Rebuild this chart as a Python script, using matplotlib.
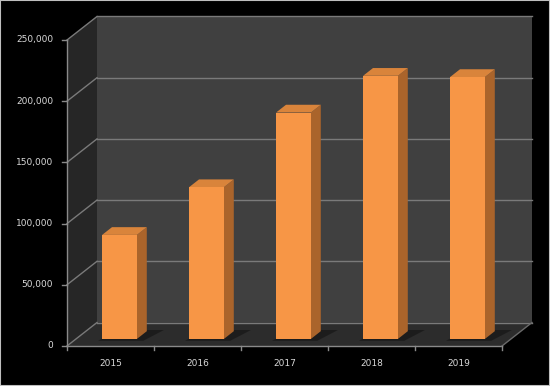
import numpy as np
import matplotlib.pyplot as plt
from matplotlib.patches import Polygon, Rectangle

# chart data
years = ['2015', '2016', '2017', '2018', '2019']
values = [85000, 124000, 185000, 215000, 214000]
yticks = [0, 50000, 100000, 150000, 200000, 250000]
ytick_labels = ['0', '50,000', '100,000', '150,000', '200,000', '250,000']

YMAX = 250000
NCAT = len(years)

# oblique "3d" depth offsets in data units
PX_X = 87.0            # pixels per category
PX_Y = 306.0 / YMAX    # pixels per value unit
DX = 30 / PX_X
DY = 23.5 / PX_Y


def proj(x, y, z):
    return (x + z * DX, y + z * DY)


def poly(ax, pts, color, z=1, **kw):
    ax.add_patch(Polygon(pts, closed=True, facecolor=color, edgecolor='none',
                         zorder=z, clip_on=False, **kw))


fig = plt.figure(figsize=(5.5, 3.86), dpi=100, facecolor='black')
ax = fig.add_axes([67 / 550, 40 / 386, 435 / 550, 306 / 386])
ax.set_xlim(0, NCAT)
ax.set_ylim(0, YMAX)
ax.axis('off')

# walls and floor
poly(ax, [proj(0, 0, 1), proj(NCAT, 0, 1), proj(NCAT, YMAX, 1), proj(0, YMAX, 1)], '#404040', 1)
poly(ax, [proj(0, 0, 0), proj(0, 0, 1), proj(0, YMAX, 1), proj(0, YMAX, 0)], '#262626', 1)
poly(ax, [proj(0, 0, 0), proj(NCAT, 0, 0), proj(NCAT, 0, 1), proj(0, 0, 1)], '#2c2c2c', 1)

grid_col = '#7a7a7a'
for v in yticks:
    xa, ya = zip(proj(0, v, 1), proj(NCAT, v, 1))
    ax.plot(xa, ya, color=grid_col, lw=1, zorder=2, clip_on=False)
    xa, ya = zip(proj(0, v, 0), proj(0, v, 1))
    ax.plot(xa, ya, color=grid_col, lw=1, zorder=2, clip_on=False)
    # tick marks on the value axis
    ax.plot([-5 / PX_X, 0], [v, v], color='#8a8a8a', lw=1, zorder=2, clip_on=False)
    ax.text(-14 / PX_X, v, ytick_labels[yticks.index(v)], ha='right', va='center',
            color='#d9d9d9', fontsize=6.5)

# axis lines
ax.plot([0, 0], [0, YMAX], color='#8a8a8a', lw=1, zorder=2, clip_on=False)
ax.plot([0, NCAT], [0, 0], color='#8a8a8a', lw=1, zorder=2, clip_on=False)
xa, ya = zip(proj(NCAT, 0, 0), proj(NCAT, 0, 1))
ax.plot(xa, ya, color='#6a6a6a', lw=1, zorder=2, clip_on=False)
for i in range(NCAT + 1):
    ax.plot([i, i], [0, -4 / PX_Y], color='#8a8a8a', lw=1, zorder=2, clip_on=False)

# bars
front_c, side_c, top_c = '#f79646', '#aa642b', '#d9843b'
z0, z1 = 0.3, 0.63
for i, (lab, v) in enumerate(zip(years, values)):
    x0, x1 = i + 0.3, i + 0.7
    # soft shadow on the floor
    poly(ax, [proj(x0 - 0.02, 0, z0 - 0.08), proj(x1 + 0.1, 0, z0 - 0.08),
              proj(x1 + 0.18, 0, z1 + 0.05), proj(x0 + 0.05, 0, z1 + 0.05)],
         'black', 3, alpha=0.35)
    poly(ax, [proj(x1, 0, z0), proj(x1, 0, z1), proj(x1, v, z1), proj(x1, v, z0)], side_c, 4)
    poly(ax, [proj(x0, v, z0), proj(x1, v, z0), proj(x1, v, z1), proj(x0, v, z1)], top_c, 4)
    poly(ax, [proj(x0, 0, z0), proj(x1, 0, z0), proj(x1, v, z0), proj(x0, v, z0)], front_c, 5)
    ax.text(i + 0.5, -18 / PX_Y, lab, ha='center', va='center',
            color='#d9d9d9', fontsize=6.5)

# thin frame around the chart
fig.patches.append(Rectangle((0, 0), 1, 1, transform=fig.transFigure, fill=False,
                             edgecolor='#bfbfbf', lw=1.5))

fig.savefig('out.png', dpi=100, facecolor='black')
